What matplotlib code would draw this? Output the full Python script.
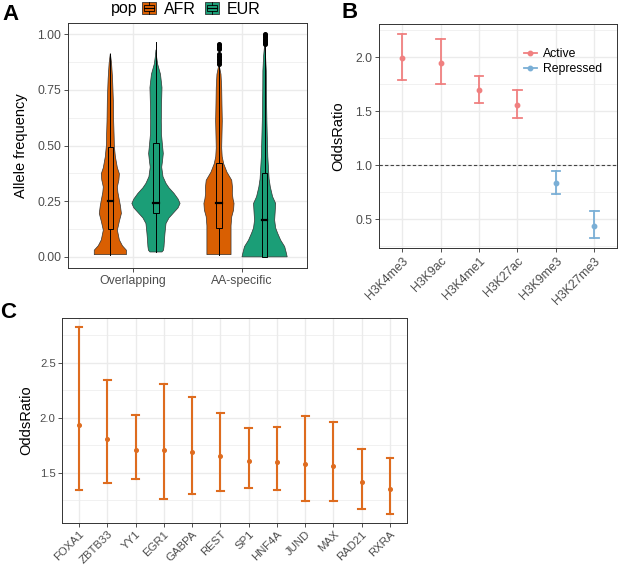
import numpy as np
import matplotlib
matplotlib.use('Agg')
import matplotlib.pyplot as plt
from matplotlib.patches import Rectangle, Patch
from matplotlib.lines import Line2D
from matplotlib.legend_handler import HandlerBase
from matplotlib.ticker import MultipleLocator

plt.rcParams['font.family'] = ['Liberation Sans', 'DejaVu Sans']

# ---- panel A: allele frequency violins (outlines) ----
groups = ['Overlapping', 'AA-specific']
pops = ['AFR', 'EUR']
pop_colors = ['#D95F02', '#1B9E77']

afr_ovl_y = [0.010, 0.03, 0.05, 0.076, 0.12, 0.16, 0.195, 0.23, 0.254, 0.29, 0.314,
             0.345, 0.373, 0.40, 0.45, 0.497, 0.55, 0.61, 0.70, 0.80, 0.87, 0.914]
afr_ovl_d = [16, 16, 12, 9, 7, 9, 11, 10, 9, 7.5, 7, 8.5, 9, 7, 5, 4, 3.7, 3.3, 3, 2.2, 1.2, 0]

eur_ovl_y = [0.022, 0.03, 0.046, 0.08, 0.107, 0.13, 0.15, 0.175, 0.195, 0.22, 0.24, 0.26,
             0.285, 0.31, 0.33, 0.36, 0.403, 0.43, 0.464, 0.50, 0.55, 0.61, 0.68, 0.76,
             0.82, 0.865, 0.90, 0.93]
eur_ovl_d = [6, 7.5, 8, 8.5, 9, 9.5, 10, 13, 17, 22, 24, 22, 18, 13, 10, 7, 5.7, 6.5,
             7.3, 6.5, 5.5, 5.3, 5.5, 6, 4.5, 1.7, 0.6, 0]

afr_aa_y = [0.010, 0.05, 0.106, 0.14, 0.18, 0.21, 0.24, 0.26, 0.284, 0.31, 0.344, 0.38,
            0.418, 0.45, 0.49, 0.55, 0.61, 0.68, 0.76, 0.82, 0.865]
afr_aa_d = [12, 12, 12, 12, 12.7, 14.5, 15, 14, 13.3, 13.5, 12.7, 8, 4.7, 3.2, 2.7, 3,
            3.3, 3, 2.7, 2, 0]

eur_aa_y = [0.0, 0.02, 0.046, 0.075, 0.106, 0.13, 0.165, 0.20, 0.24, 0.27, 0.314, 0.35,
            0.388, 0.45, 0.537, 0.61, 0.687, 0.76, 0.835, 0.90, 0.95]
eur_aa_d = [22.5, 21.5, 20, 16, 13, 11, 10, 10.5, 11, 8, 5.7, 4.5, 4, 3.2, 2.7, 2.3, 2,
            1.8, 1.7, 1, 0]

# box stats: whisker low, q1, median, q3, whisker high
afr_ovl_box = [0.010, 0.124, 0.251, 0.492, 0.910]
eur_ovl_box = [0.022, 0.195, 0.241, 0.512, 0.964]
afr_aa_box = [0.010, 0.128, 0.240, 0.423, 0.860]
eur_aa_box = [0.000, 0.001, 0.165, 0.378, 0.945]

afr_aa_out = [0.868, 0.875, 0.882, 0.889, 0.896, 0.903, 0.909, 0.932, 0.938, 0.944, 0.950, 0.954]
eur_aa_out = [0.955, 0.96, 0.965, 0.97, 0.975, 0.98, 0.985, 0.99, 0.995, 1.0]

# ---- panel B: histone marks ----
marks = ['H3K4me3', 'H3K9ac', 'H3K4me1', 'H3K27ac', 'H3K9me3', 'H3K27me3']
mark_or = [1.99, 1.95, 1.696, 1.557, 0.841, 0.438]
mark_lo = [1.79, 1.754, 1.573, 1.437, 0.737, 0.331]
mark_hi = [2.215, 2.172, 1.822, 1.696, 0.952, 0.577]
mark_state = ['Active', 'Active', 'Active', 'Active', 'Repressed', 'Repressed']
state_colors = {'Active': '#F08080', 'Repressed': '#7AAFD6'}

# ---- panel C: transcription factors ----
tfs = ['FOXA1', 'ZBTB33', 'YY1', 'EGR1', 'GABPA', 'REST', 'SP1', 'HNF4A', 'JUND',
       'MAX', 'RAD21', 'RXRA']
tf_or = [1.939, 1.812, 1.709, 1.706, 1.694, 1.655, 1.609, 1.600, 1.585, 1.567, 1.421, 1.355]
tf_lo = [1.348, 1.406, 1.442, 1.264, 1.312, 1.336, 1.364, 1.342, 1.245, 1.248, 1.176, 1.130]
tf_hi = [2.824, 2.348, 2.024, 2.309, 2.194, 2.048, 1.906, 1.921, 2.015, 1.964, 1.721, 1.633]

GRID = '#EBEBEB'
TICK = '#4D4D4D'
EDGE = '#333333'


def style(ax, size=8.8, pad=2):
    ax.set_axisbelow(True)
    ax.grid(True, which='major', color=GRID, lw=1.0)
    ax.grid(True, which='minor', axis='y', color=GRID, lw=0.5)
    for s in ax.spines.values():
        s.set_color(EDGE)
        s.set_linewidth(0.7)
    ax.tick_params(which='major', length=3, width=0.6, color=EDGE,
                   labelsize=size, labelcolor=TICK, pad=pad)
    ax.tick_params(which='minor', length=0)


class BoxKey(HandlerBase):
    def create_artists(self, legend, orig_handle, xdescent, ydescent,
                       width, height, fontsize, trans):
        fc = orig_handle.get_facecolor()
        x0, y0 = -xdescent, -ydescent
        outer = Rectangle((x0, y0), width, height, fc=fc, ec=EDGE, lw=0.6, transform=trans)
        inner = Rectangle((x0 + 0.12 * width, y0 + 0.25 * height), 0.76 * width, 0.5 * height,
                          fc=fc, ec='black', lw=0.6, transform=trans)
        med = Line2D([x0 + 0.12 * width, x0 + 0.88 * width], [y0 + 0.5 * height] * 2,
                     color='black', lw=0.8, transform=trans)
        w1 = Line2D([x0 + 0.5 * width] * 2, [y0, y0 + 0.25 * height], color='black', lw=0.6,
                    transform=trans)
        w2 = Line2D([x0 + 0.5 * width] * 2, [y0 + 0.75 * height, y0 + height], color='black',
                    lw=0.6, transform=trans)
        return [outer, inner, med, w1, w2]


fig = plt.figure(figsize=(6.18, 5.67), dpi=100)

# ---------------- A ----------------
axA = fig.add_axes([0.110, 0.5273, 0.3867, 0.4321])
style(axA)
violins = [[(afr_ovl_y, afr_ovl_d, afr_ovl_box, []), (eur_ovl_y, eur_ovl_d, eur_ovl_box, [])],
           [(afr_aa_y, afr_aa_d, afr_aa_box, afr_aa_out), (eur_aa_y, eur_aa_d, eur_aa_box, eur_aa_out)]]
dmax = max(max(afr_ovl_d), max(eur_ovl_d), max(afr_aa_d), max(eur_aa_d))
wscale = 0.222 / dmax
for gi, pair in enumerate(violins):
    for pi, (vy, vd, bx, out) in enumerate(pair):
        xc = gi + 1 + (-0.21 if pi == 0 else 0.21)
        vy = np.array(vy)
        hw = np.array(vd) * wscale
        xs = np.concatenate([xc - hw, (xc + hw)[::-1]])
        ys = np.concatenate([vy, vy[::-1]])
        axA.fill(xs, ys, fc=pop_colors[pi], ec=EDGE, lw=0.5, zorder=2)
        lo, q1, md, q3, hi = bx
        bw = 0.026
        axA.plot([xc, xc], [lo, q1], color='black', lw=0.7, zorder=3)
        axA.plot([xc, xc], [q3, hi], color='black', lw=0.7, zorder=3)
        axA.add_patch(Rectangle((xc - bw, q1), 2 * bw, q3 - q1, fc=pop_colors[pi],
                                ec='black', lw=0.7, zorder=3))
        axA.plot([xc - bw, xc + bw], [md, md], color='black', lw=1.6, zorder=4)
        if out:
            axA.plot([xc] * len(out), out, 'o', color='black', ms=2.6, zorder=4)
axA.set_xlim(0.4, 2.6)
axA.set_ylim(-0.05, 1.05)
axA.set_xticks([1, 2])
axA.set_xticklabels(groups)
axA.set_yticks([0, 0.25, 0.5, 0.75, 1.0])
axA.set_yticklabels(['0.00', '0.25', '0.50', '0.75', '1.00'])
axA.yaxis.set_minor_locator(MultipleLocator(0.125))
axA.set_ylabel('Allele frequency', fontsize=10.5)
axA.yaxis.set_label_coords(-0.167, 0.5)

fig.text(111 / 618, 1 - 9 / 567, 'pop', fontsize=11.5, va='center', ha='left')
handles = [Patch(facecolor=c, label=p) for p, c in zip(pops, pop_colors)]
fig.legend(handles=handles, loc='center left', bbox_to_anchor=(142 / 618, 1 - 9 / 567),
           ncol=2, frameon=False, fontsize=11.5, handlelength=0.85, handleheight=0.85,
           handletextpad=0.5, columnspacing=0.6, borderpad=0, borderaxespad=0,
           handler_map={Patch: BoxKey()})

# ---------------- B ----------------
axB = fig.add_axes([0.6133, 0.5626, 0.3857, 0.3951])
style(axB)
xb = np.arange(1, len(marks) + 1)
cw = 0.11
for x, o, lo, hi, st in zip(xb, mark_or, mark_lo, mark_hi, mark_state):
    c = state_colors[st]
    axB.plot([x, x], [lo, hi], color=c, lw=1.3, zorder=3)
    axB.plot([x - cw, x + cw], [lo, lo], color=c, lw=1.3, zorder=3)
    axB.plot([x - cw, x + cw], [hi, hi], color=c, lw=1.3, zorder=3)
    axB.plot([x], [o], 'o', color=c, ms=3.2, zorder=4)
axB.axhline(1.0, color='#444444', lw=0.8, ls=(0, (3, 2)), zorder=2)
axB.set_xlim(0.4, len(marks) + 0.6)
axB.set_ylim(0.236, 2.307)
axB.set_xticks(xb)
axB.set_xticklabels(marks, rotation=45, ha='right', va='top', rotation_mode='anchor')
axB.set_yticks([0.5, 1.0, 1.5, 2.0])
axB.yaxis.set_minor_locator(MultipleLocator(0.25))
axB.set_ylabel('OddsRatio', fontsize=10.5)
axB.yaxis.set_label_coords(-0.14, 0.5)
leg_h = [Line2D([], [], color=state_colors[s], lw=1.3, marker='o', ms=3.2) for s in ['Active', 'Repressed']]
axB.legend(leg_h, ['Active', 'Repressed'], loc='upper left', bbox_to_anchor=(0.607, 0.893),
           frameon=False, fontsize=8.8, handlelength=1.1, handletextpad=0.5,
           labelspacing=0.25, borderpad=0, borderaxespad=0)

# ---------------- C ----------------
axC = fig.add_axes([0.1003, 0.0776, 0.5583, 0.3616])
style(axC, size=8.2, pad=1.5)
xc_ = np.arange(1, len(tfs) + 1)
cw = 0.12
orange = '#DE6C1F'
for x, o, lo, hi in zip(xc_, tf_or, tf_lo, tf_hi):
    axC.plot([x, x], [lo, hi], color=orange, lw=1.5, zorder=3)
    axC.plot([x - cw, x + cw], [lo, lo], color=orange, lw=1.5, zorder=3)
    axC.plot([x - cw, x + cw], [hi, hi], color=orange, lw=1.5, zorder=3)
    axC.plot([x], [o], 'o', color=orange, ms=2.6, zorder=4)
axC.set_xlim(0.4, len(tfs) + 0.6)
axC.set_ylim(1.045, 2.909)
axC.set_xticks(xc_)
axC.set_xticklabels(tfs, rotation=45, ha='right', va='top', rotation_mode='anchor')
axC.set_yticks([1.5, 2.0, 2.5])
axC.yaxis.set_minor_locator(MultipleLocator(0.25))
axC.set_ylabel('OddsRatio', fontsize=10.5)
axC.yaxis.set_label_coords(-0.084, 0.5)

fig.text(2 / 618, 1 - 4 / 567, 'A', fontsize=16, fontweight='bold', va='top', ha='left')
fig.text(341 / 618, 1 - 2 / 567, 'B', fontsize=16, fontweight='bold', va='top', ha='left')
fig.text(0 / 618, 1 - 302 / 567, 'C', fontsize=16, fontweight='bold', va='top', ha='left')

fig.savefig('out.png', dpi=100)
